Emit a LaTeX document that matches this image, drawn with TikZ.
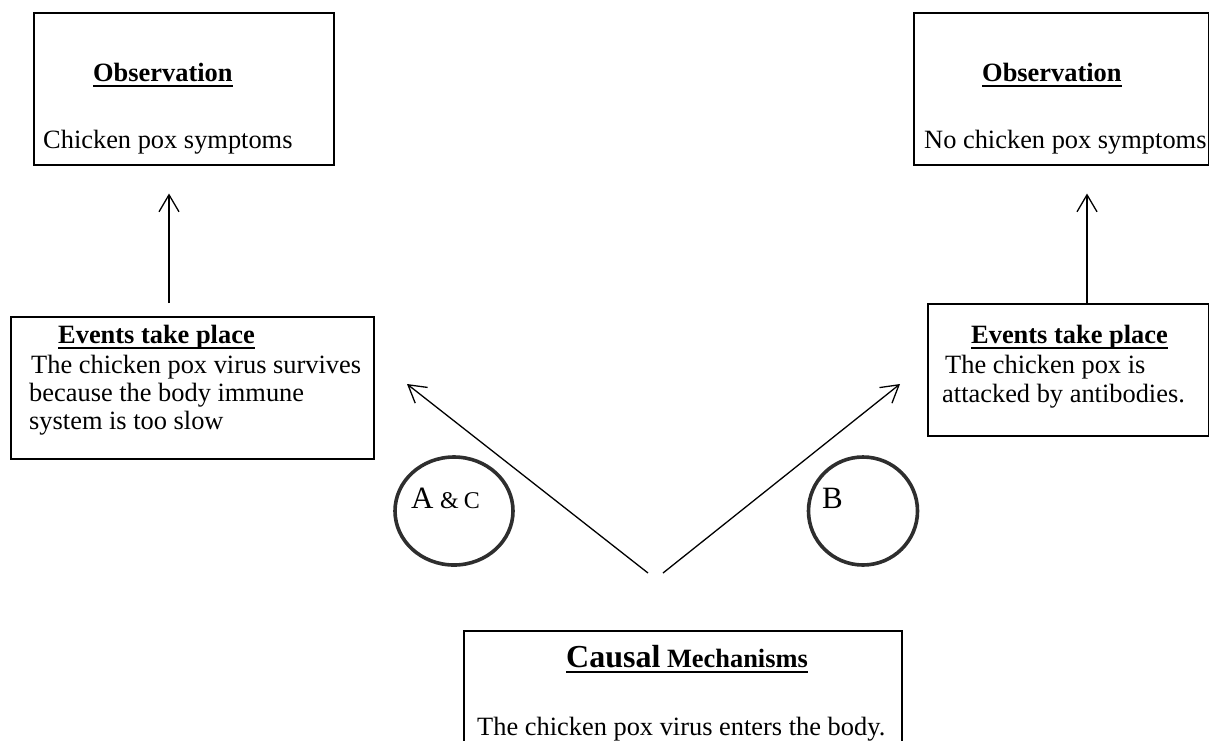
\documentclass[tikz,border=0pt]{standalone}
\usepackage{fontspec}
\setmainfont{Liberation Serif}
\usetikzlibrary{arrows.meta,shapes.geometric}
% bold heading with a heavy underline
\newcommand\headline[1]{\setbox0=\hbox{\bfseries #1}\rlap{\rule[-5.5pt]{\wd0}{2pt}}\box0}
\begin{document}
\begin{tikzpicture}[x=1pt,y=-1pt,
  box/.style={draw, line width=1.5pt, inner sep=0pt, anchor=north west},
  txt/.style={anchor=base west, inner sep=0pt, font=\fontsize{26.4}{28}\selectfont},
  ring/.style={draw=black!82, line width=3.6pt, ellipse, inner sep=0pt},
  arr/.style={line width=1.3pt, -{Straight Barb[length=17pt,width=20pt]}}]
\useasboundingbox (0,0) rectangle (1209,740);
\clip (0,0) rectangle (1209,740);

% boxes
\node[box, minimum width=300pt, minimum height=152pt] (obsL) at (33,12) {};
\node[box, minimum width=295pt, minimum height=152pt] (obsR) at (913,12) {};
\node[box, minimum width=363pt, minimum height=142pt] (evL) at (10,316) {};
\node[box, minimum width=281pt, minimum height=132pt] (evR) at (927,303) {};
\node[box, minimum width=438pt, minimum height=140pt] (cause) at (463,630) {};

% texts
\node[txt] (obsLh) at (93,81) {\headline{Observation}};
\node[txt] (obsLt) at (43,148) {Chicken pox symptoms};
\node[txt] (obsRh) at (982,81) {\headline{Observation}};
\node[txt] (obsRt) at (924,148) {No chicken pox symptoms};
\node[txt] (evLh) at (58,343) {\headline{Events take place}};
\node[txt] (evL1) at (31,373) {The chicken pox virus survives};
\node[txt] (evL2) at (29,401) {because the body immune};
\node[txt] (evL3) at (29,429) {system is too slow};
\node[txt] (evRh) at (971,343) {\headline{Events take place}};
\node[txt] (evR1) at (945,373) {The chicken pox is};
\node[txt] (evR2) at (942,402) {attacked by antibodies.};
\node[txt] (causeh) at (566,667) {\headline{{\fontsize{32}{34}\selectfont Causal} Mechanisms}};
\node[txt] (causet) at (477,735) {The chicken pox virus enters the body.};

% rings
\node[ring, minimum width=118pt, minimum height=108pt] (ringAC) at (454,511) {};
\node[ring, minimum width=109pt, minimum height=108pt] (ringB) at (863,511) {};
\node[txt] (lblAC) at (411,508) {{\fontsize{31}{33}\selectfont A} {\fontsize{24}{26}\selectfont\&\hspace{5pt}C}};
\node[txt] (lblB) at (822,508) {\fontsize{31}{33}\selectfont B};

% connectors
\coordinate (aL) at (169,0);
\coordinate (aR) at (1087,0);
\draw[arr, shorten <=13pt, shorten >=28pt] (evL.north -| aL) -- (obsL.south -| aL);
\draw[arr, shorten >=28pt] (evR.north -| aR) -- (obsR.south -| aR);
\coordinate (tailL) at (648,573);
\coordinate (tailR) at (663,573);
\coordinate (tipL) at (407,384);
\coordinate (tipR) at (900,384);
\draw[arr] (tailL) -- (tipL);
\draw[arr] (tailR) -- (tipR);
\end{tikzpicture}
\end{document}
